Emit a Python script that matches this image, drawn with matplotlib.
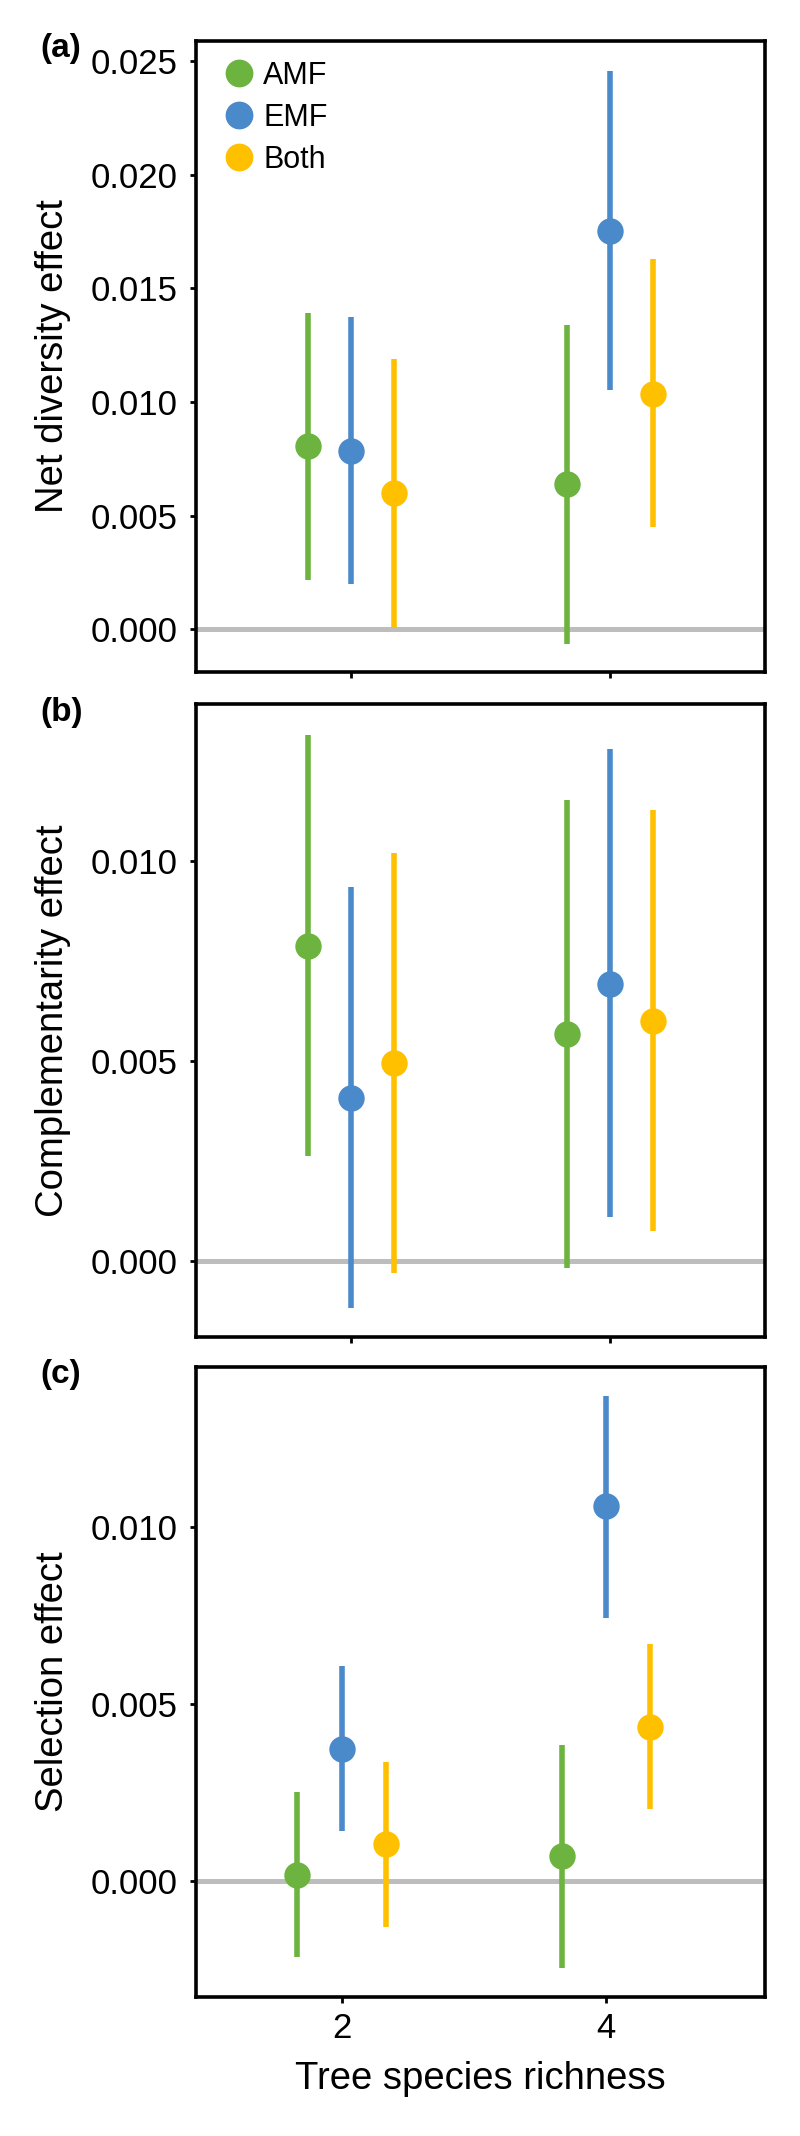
import matplotlib.pyplot as plt
from matplotlib.lines import Line2D
from matplotlib.ticker import FormatStrFormatter

plt.rcParams['font.family'] = ['Liberation Sans', 'DejaVu Sans']

richness = [2, 4]
groups = ['AMF', 'EMF', 'Both']
colors = ['#6DB33F', '#4A89CA', '#FFC000']

# rows = AMF, EMF, Both ; columns = richness 2, 4
net_mean = [[0.00806, 0.00637], [0.00784, 0.01753], [0.00599, 0.01036]]
net_low = [[0.00216, -0.00065], [0.00197, 0.01051], [0.00010, 0.00448]]
net_high = [[0.01393, 0.01338], [0.01372, 0.02457], [0.01189, 0.01627]]

comp_mean = [[0.00787, 0.00567], [0.00407, 0.00693], [0.00494, 0.00599]]
comp_low = [[0.00261, -0.00017], [-0.00117, 0.00109], [-0.00031, 0.00076]]
comp_high = [[0.01313, 0.01152], [0.00934, 0.01278], [0.01020, 0.01126]]

sel_mean = [[0.00017, 0.00071], [0.00375, 0.01059], [0.00105, 0.00436]]
sel_low = [[-0.00215, -0.00245], [0.00143, 0.00745], [-0.00129, 0.00203]]
sel_high = [[0.00252, 0.00385], [0.00608, 0.01372], [0.00338, 0.00669]]

panels = [
    ('(a)', 'Net diversity effect', net_mean, net_low, net_high,
     (-0.0019, 0.0259), [0, 0.005, 0.010, 0.015, 0.020, 0.025], (0.8, 5.2)),
    ('(b)', 'Complementarity effect', comp_mean, comp_low, comp_high,
     (-0.0019, 0.0139), [0, 0.005, 0.010], (0.8, 5.2)),
    ('(c)', 'Selection effect', sel_mean, sel_low, sel_high,
     (-0.00327, 0.01453), [0, 0.005, 0.010], (0.9, 5.2)),
]

W, H = 800, 2136
fig = plt.figure(figsize=(W / 100, H / 100), dpi=100)

boxes = [(40.7, 672.3), (704.5, 1337), (1367, 1997)]
left, right = 196, 765
offsets = [-1 / 3, 0, 1 / 3]

for (letter, ylab, mean, low, high, ylim, yticks, xlim), (top, bot) in zip(panels, boxes):
    ax = fig.add_axes([left / W, 1 - bot / H, (right - left) / W, (bot - top) / H])
    ax.axhline(0, color='#BDBDBD', lw=3.6, zorder=0)
    for g in range(len(groups)):
        xs = [r + offsets[g] for r in richness]
        yerr = [[m - l for m, l in zip(mean[g], low[g])],
                [h - m for m, h in zip(mean[g], high[g])]]
        ax.errorbar(xs, mean[g], yerr=yerr, fmt='o', color=colors[g],
                    ms=19, mew=0, elinewidth=4, capsize=0, zorder=3)
    ax.set_xlim(*xlim)
    ax.set_ylim(*ylim)
    ax.set_xticks(richness)
    ax.set_yticks(yticks)
    ax.yaxis.set_major_formatter(FormatStrFormatter('%.3f'))
    ax.tick_params(labelsize=25, width=2, length=4.5, pad=9, color='black')
    ax.tick_params(axis='x', pad=6)
    for s in ax.spines.values():
        s.set_linewidth(2.6)
    ax.set_ylabel(ylab, fontsize=27.5)
    ax.yaxis.set_label_coords(-0.22, 0.5)
    if letter != '(c)':
        ax.set_xticklabels([])
    else:
        ax.set_xlabel('Tree species richness', fontsize=27.5, labelpad=12)
    fig.text(40 / W, 1 - (top + 8) / H, letter, fontsize=24, fontweight='bold',
             ha='left', va='center')
    if letter == '(a)':
        handles = [Line2D([], [], marker='o', ls='none', color=c, ms=19) for c in colors]
        ax.legend(handles, groups, loc='upper left', frameon=False, fontsize=22,
                  handletextpad=0.05, labelspacing=0.4, borderaxespad=0.25,
                  handlelength=1.5)

fig.savefig('out.png', dpi=100)
